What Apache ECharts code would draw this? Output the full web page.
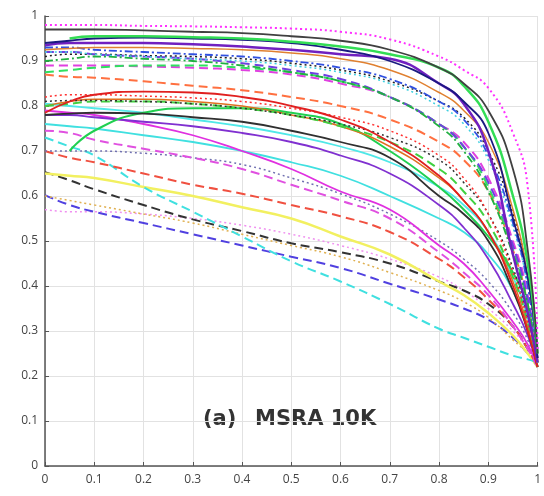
<!DOCTYPE html>
<html>
<head>
<meta charset="utf-8">
<script src="https://cdn.jsdelivr.net/npm/echarts@6/dist/echarts.min.js"></script>
<style>
  html, body { margin: 0; padding: 0; background: #fff; }
  #chart { width: 544px; height: 496px; }
</style>
</head>
<body>
<div id="chart"></div>
<script>
// recall values shared by every curve
const recall = [0, 0.05, 0.1, 0.2, 0.3, 0.4, 0.5, 0.6, 0.7, 0.8, 0.85, 0.9, 0.95, 0.98, 1]

// precision values
const magentaDot = [0.98, 0.98, 0.98, 0.978, 0.977, 0.975, 0.972, 0.965, 0.948, 0.91, 0.88, 0.84, 0.74, 0.62, 0.26]
const graySolid = [0.97, 0.97, 0.97, 0.968, 0.965, 0.962, 0.955, 0.945, 0.925, 0.885, 0.85, 0.79, 0.66, 0.48, 0.25]
const greenTop = [null, 0.95, 0.955, 0.955, 0.953, 0.95, 0.943, 0.932, 0.915, 0.885, 0.845, 0.765, 0.6, 0.45, 0.25]
const navySolid = [0.94, 0.945, 0.95, 0.952, 0.95, 0.947, 0.94, 0.925, 0.9, 0.85, 0.81, 0.74, 0.55, 0.42, 0.24]
const purpleSolid = [0.935, 0.94, 0.94, 0.94, 0.937, 0.932, 0.925, 0.915, 0.905, 0.85, 0.805, 0.7, 0.47, 0.34, 0.23]
const orangeTop = [0.925, 0.928, 0.93, 0.93, 0.928, 0.925, 0.918, 0.905, 0.88, 0.83, 0.79, 0.72, 0.57, 0.42, 0.24]
const blueDashDot = [0.93, 0.93, 0.925, 0.92, 0.915, 0.91, 0.9, 0.885, 0.86, 0.81, 0.77, 0.69, 0.54, 0.4, 0.24]
const cyanDot = [0.92, 0.92, 0.915, 0.91, 0.905, 0.9, 0.89, 0.875, 0.85, 0.8, 0.76, 0.68, 0.53, 0.4, 0.23]
const blackDot = [0.91, 0.915, 0.915, 0.912, 0.91, 0.905, 0.895, 0.88, 0.855, 0.81, 0.775, 0.7, 0.56, 0.42, 0.24]
const greenDashDot = [0.9, 0.905, 0.91, 0.905, 0.9, 0.89, 0.875, 0.855, 0.82, 0.755, 0.7, 0.61, 0.47, 0.36, 0.23]
const purpleDash = [0.92, 0.92, 0.915, 0.91, 0.905, 0.895, 0.88, 0.86, 0.82, 0.76, 0.71, 0.63, 0.49, 0.37, 0.23]
const greenDash = [0.875, 0.88, 0.885, 0.89, 0.89, 0.885, 0.875, 0.855, 0.82, 0.76, 0.71, 0.62, 0.48, 0.36, 0.23]
const magentaDashTop = [0.89, 0.89, 0.89, 0.888, 0.885, 0.88, 0.87, 0.85, 0.82, 0.76, 0.72, 0.64, 0.5, 0.38, 0.23]
const orangeDash = [0.87, 0.865, 0.863, 0.855, 0.845, 0.835, 0.82, 0.8, 0.77, 0.72, 0.68, 0.61, 0.48, 0.36, 0.23]
const redSolid = [0.785, 0.81, 0.825, 0.832, 0.83, 0.82, 0.8, 0.77, 0.72, 0.645, 0.59, 0.52, 0.4, 0.3, 0.22]
const redDot = [0.82, 0.825, 0.825, 0.822, 0.818, 0.81, 0.795, 0.775, 0.745, 0.69, 0.64, 0.56, 0.43, 0.32, 0.22]
const blackDotMid = [0.81, 0.812, 0.812, 0.81, 0.805, 0.795, 0.78, 0.76, 0.73, 0.68, 0.63, 0.56, 0.44, 0.33, 0.22]
const greenDashMid = [0.8, 0.805, 0.81, 0.81, 0.805, 0.795, 0.78, 0.755, 0.72, 0.66, 0.61, 0.54, 0.42, 0.32, 0.22]
const orangeMid = [0.8, 0.81, 0.815, 0.815, 0.81, 0.8, 0.78, 0.755, 0.71, 0.64, 0.59, 0.52, 0.41, 0.31, 0.22]
const blackSolidMid = [0.78, 0.783, 0.785, 0.783, 0.775, 0.765, 0.745, 0.72, 0.685, 0.6, 0.56, 0.5, 0.39, 0.3, 0.22]
const greenSolidMid = [null, 0.7, 0.745, 0.785, 0.795, 0.795, 0.785, 0.76, 0.7, 0.62, 0.57, 0.51, 0.43, 0.35, 0.23]
const violetSolid = [0.78, 0.78, 0.775, 0.765, 0.755, 0.74, 0.72, 0.69, 0.65, 0.58, 0.53, 0.46, 0.36, 0.29, 0.22]
const cyanSolidHigh = [0.805, 0.8, 0.795, 0.785, 0.77, 0.755, 0.735, 0.71, 0.675, 0.62, 0.58, 0.52, 0.42, 0.33, 0.23]
const magentaSolid = [0.79, 0.785, 0.78, 0.76, 0.735, 0.7, 0.66, 0.61, 0.57, 0.49, 0.45, 0.39, 0.32, 0.27, 0.22]
const cyanSolid = [0.76, 0.755, 0.75, 0.735, 0.72, 0.7, 0.675, 0.645, 0.6, 0.55, 0.52, 0.47, 0.39, 0.3, 0.22]
const magentaDashMid = [0.745, 0.74, 0.725, 0.705, 0.685, 0.66, 0.625, 0.59, 0.55, 0.475, 0.43, 0.38, 0.31, 0.26, 0.22]
const slateDot = [0.7, 0.7, 0.7, 0.695, 0.685, 0.67, 0.64, 0.605, 0.56, 0.5, 0.46, 0.41, 0.34, 0.28, 0.22]
const redDash = [0.7, 0.685, 0.675, 0.65, 0.625, 0.605, 0.58, 0.555, 0.52, 0.46, 0.42, 0.37, 0.31, 0.26, 0.22]
const cyanDash = [0.73, 0.71, 0.69, 0.62, 0.565, 0.51, 0.455, 0.41, 0.36, 0.305, 0.285, 0.265, 0.245, 0.237, 0.23]
const yellowSolid = [0.65, 0.645, 0.64, 0.62, 0.6, 0.575, 0.55, 0.51, 0.47, 0.41, 0.38, 0.34, 0.29, 0.25, 0.22]
const blackDash = [0.653, 0.635, 0.615, 0.58, 0.548, 0.522, 0.495, 0.475, 0.45, 0.41, 0.39, 0.36, 0.31, 0.26, 0.22]
const orangeDot = [0.6, 0.59, 0.58, 0.56, 0.54, 0.515, 0.49, 0.465, 0.43, 0.39, 0.365, 0.33, 0.28, 0.25, 0.22]
const blueDash = [0.602, 0.58, 0.565, 0.54, 0.515, 0.49, 0.465, 0.44, 0.405, 0.37, 0.35, 0.325, 0.285, 0.25, 0.22]
const pinkDot = [0.57, 0.565, 0.565, 0.56, 0.55, 0.535, 0.515, 0.49, 0.46, 0.42, 0.39, 0.35, 0.3, 0.26, 0.22]

const xTicks = [0, 0.1, 0.2, 0.3, 0.4, 0.5, 0.6, 0.7, 0.8, 0.9, 1]
const yTicks = [0, 0.1, 0.2, 0.3, 0.4, 0.5, 0.6, 0.7, 0.8, 0.9, 1]

const DASH = [9, 5]
const DASHDOT = [8, 3, 2, 3]
const DOT = [2, 3]

const curves = [
  { data: pinkDot, color: '#f090f0', type: DOT, width: 1.5 },
  { data: blueDash, color: '#5040e0', type: DASH, width: 2 },
  { data: orangeDot, color: '#e0b050', type: DOT, width: 1.5 },
  { data: blackDash, color: '#333333', type: DASH, width: 2 },
  { data: yellowSolid, color: '#f2f060', type: 'solid', width: 2.5 },
  { data: cyanDash, color: '#40e0e0', type: DASH, width: 2 },
  { data: redDash, color: '#f05040', type: DASH, width: 2 },
  { data: slateDot, color: '#7070b0', type: DOT, width: 1.5 },
  { data: magentaDashMid, color: '#e050e0', type: DASH, width: 2 },
  { data: cyanSolid, color: '#40e0e0', type: 'solid', width: 1.8 },
  { data: magentaSolid, color: '#e030e0', type: 'solid', width: 1.8 },
  { data: cyanSolidHigh, color: '#50e8e8', type: 'solid', width: 1.8 },
  { data: violetSolid, color: '#8030d0', type: 'solid', width: 1.8 },
  { data: greenSolidMid, color: '#20d050', type: 'solid', width: 2 },
  { data: blackSolidMid, color: '#303030', type: 'solid', width: 1.8 },
  { data: orangeMid, color: '#e07020', type: 'solid', width: 1.5 },
  { data: greenDashMid, color: '#40d040', type: DASH, width: 2 },
  { data: blackDotMid, color: '#303030', type: DOT, width: 1.5 },
  { data: redDot, color: '#ff3030', type: DOT, width: 1.5 },
  { data: redSolid, color: '#e02020', type: 'solid', width: 1.8 },
  { data: orangeDash, color: '#ff7040', type: DASH, width: 2 },
  { data: magentaDashTop, color: '#e040e0', type: DASH, width: 2 },
  { data: greenDash, color: '#30e060', type: DASH, width: 2 },
  { data: purpleDash, color: '#7040e0', type: DASH, width: 2 },
  { data: greenDashDot, color: '#20b040', type: DASHDOT, width: 1.8 },
  { data: blackDot, color: '#202020', type: DOT, width: 1.5 },
  { data: cyanDot, color: '#40d0e0', type: DOT, width: 1.5 },
  { data: blueDashDot, color: '#3050e0', type: DASHDOT, width: 1.8 },
  { data: orangeTop, color: '#e08030', type: 'solid', width: 1.5 },
  { data: purpleSolid, color: '#7020c0', type: 'solid', width: 2.5 },
  { data: navySolid, color: '#1a1a80', type: 'solid', width: 1.8 },
  { data: greenTop, color: '#33dd55', type: 'solid', width: 2.5 },
  { data: graySolid, color: '#404040', type: 'solid', width: 1.8 },
  { data: magentaDot, color: '#ff30ff', type: DOT, width: 2 }
]

const chart = echarts.init(document.getElementById('chart'))

chart.setOption({
  animation: false,
  backgroundColor: '#fff',
  grid: { left: 45, right: 2, top: 16, bottom: 30 },
  xAxis: {
    type: 'value',
    min: xTicks[0],
    max: xTicks[xTicks.length - 1],
    interval: 0.1,
    axisLine: { lineStyle: { color: '#555', width: 1.5 } },
    axisTick: { inside: true, length: 4, lineStyle: { color: '#555' } },
    axisLabel: { color: '#444', fontSize: 12, fontFamily: 'Open Sans', margin: 8 },
    splitLine: { lineStyle: { color: '#e2e2e2' } }
  },
  yAxis: {
    type: 'value',
    min: yTicks[0],
    max: yTicks[yTicks.length - 1],
    interval: 0.1,
    axisLine: { show: true, lineStyle: { color: '#555', width: 1.5 } },
    axisTick: { show: true, inside: true, length: 4, lineStyle: { color: '#555' } },
    axisLabel: { color: '#444', fontSize: 12, fontFamily: 'Open Sans', margin: 7 },
    splitLine: { lineStyle: { color: '#e2e2e2' } }
  },
  graphic: [
    {
      type: 'text',
      left: 203,
      top: 409,
      style: { text: '(a)', fontSize: 21, fontWeight: 'bold', fontFamily: 'DejaVu Sans', fill: '#333' }
    },
    {
      type: 'text',
      left: 255,
      top: 409,
      style: { text: 'MSRA 10K', fontSize: 21, fontWeight: 'bold', fontFamily: 'DejaVu Sans', fill: '#333' }
    }
  ],
  series: curves.map(c => ({
    type: 'line',
    data: recall.map((r, i) => [r, c.data[i]]),
    showSymbol: false,
    smooth: 0.5,
    connectNulls: false,
    lineStyle: { color: c.color, type: c.type, width: c.width },
    itemStyle: { color: c.color }
  }))
})
</script>
</body>
</html>
